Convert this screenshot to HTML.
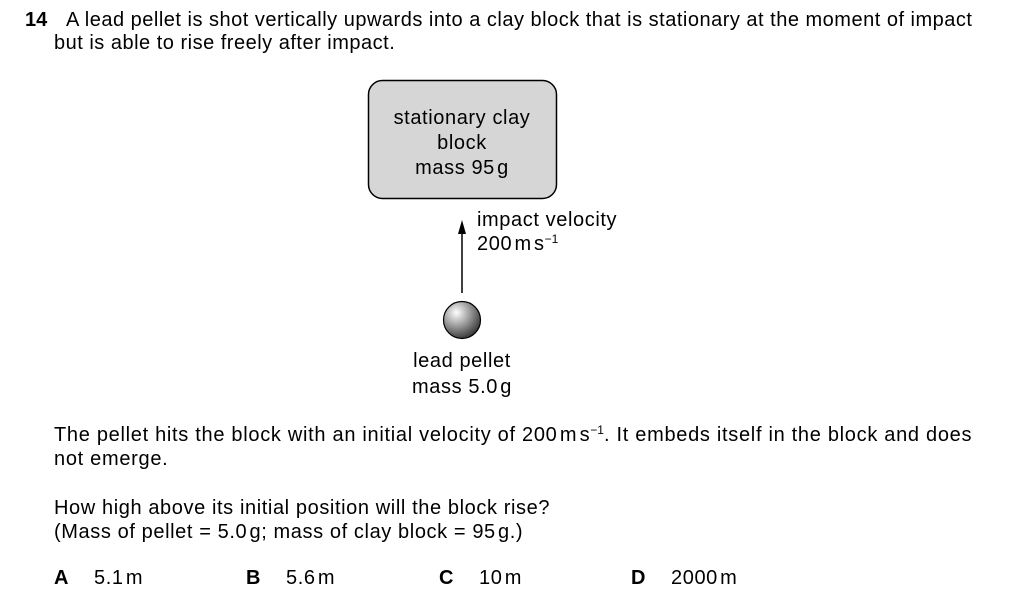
<!DOCTYPE html>
<html><head><meta charset="utf-8"><style>
body{margin:0;width:1024px;height:616px;background:#fff;font-family:"Liberation Sans",Arial,sans-serif;color:#000;position:relative;overflow:hidden}
.t{position:absolute;font-size:20px;letter-spacing:0.6px;line-height:22px;white-space:nowrap}
sup{font-size:12px;vertical-align:7px;line-height:0;letter-spacing:0}
.o{position:absolute;left:40px}
</style></head><body>
<div class="t" style="left:25px;top:9px;font-weight:bold;letter-spacing:0">14</div>
<div class="t" style="left:66px;top:9px;letter-spacing:0.5px">A lead pellet is shot vertically upwards into a clay block that is stationary at the moment of impact</div>
<div class="t" style="left:54px;top:32px;letter-spacing:0.5px">but is able to rise freely after impact.</div>
<svg width="1024" height="616" style="position:absolute;left:0;top:0">
<defs><radialGradient id="g" cx="0.35" cy="0.3" r="0.75"><stop offset="0" stop-color="#fff"/><stop offset="0.5" stop-color="#999"/><stop offset="1" stop-color="#333"/></radialGradient></defs>
<rect x="368.5" y="80.5" width="188" height="118" rx="14" fill="#d6d6d6" stroke="#000" stroke-width="1.5"/>
<line x1="462" y1="293" x2="462" y2="232" stroke="#000" stroke-width="1.5"/>
<polygon points="462,220 458,234 466,234" fill="#000"/>
<circle cx="462" cy="320" r="18.5" fill="url(#g)" stroke="#000" stroke-width="1.2"/>
</svg>
<div class="t" style="left:368px;width:188px;text-align:center;top:106px;line-height:25px;white-space:normal">stationary clay<br>block<br>mass 95&#8202;g</div>
<div class="t" style="left:477px;top:208px;line-height:24px">impact velocity<br>200&#8202;m&#8202;s<sup>&minus;1</sup></div>
<div class="t" style="left:362px;width:200px;text-align:center;top:348px;line-height:26px">lead pellet<br>mass 5.0&#8202;g</div>
<div class="t" style="left:54px;top:423px;line-height:24px;letter-spacing:0.7px">The pellet hits the block with an initial velocity of 200&#8202;m&#8202;s<sup>&minus;1</sup>. It embeds itself in the block and does<br>not emerge.</div>
<div class="t" style="left:54px;top:496px;line-height:24px">How high above its initial position will the block rise?<br>(Mass of pellet = 5.0&#8202;g; mass of clay block = 95&#8202;g.)</div>
<div class="t" style="left:54px;top:567px"><b>A</b><span class="o">5.1&#8202;m</span></div>
<div class="t" style="left:246px;top:567px"><b>B</b><span class="o">5.6&#8202;m</span></div>
<div class="t" style="left:439px;top:567px"><b>C</b><span class="o">10&#8202;m</span></div>
<div class="t" style="left:631px;top:567px"><b>D</b><span class="o">2000&#8202;m</span></div>
</body></html>
